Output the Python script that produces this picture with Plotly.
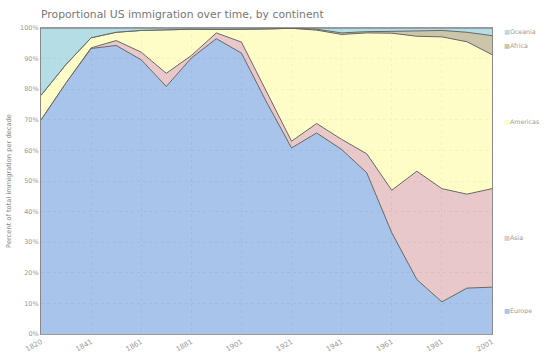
import plotly.graph_objects as go

decades = ["1820", "1831", "1841", "1851", "1861", "1871", "1881", "1891", "1901", "1911",
           "1921", "1931", "1941", "1951", "1961", "1971", "1981", "1991", "2001"]
europe = [70.0, 82.1, 93.3, 94.3, 89.6, 80.9, 90.2, 96.5, 91.8, 75.8,
          60.8, 65.7, 60.3, 52.7, 33.1, 17.8, 10.5, 15.0, 15.3]
asia = [0.0, 0.0, 0.2, 1.6, 2.5, 4.3, 0.8, 1.9, 3.6, 3.5,
        2.2, 3.1, 3.3, 6.2, 13.9, 35.4, 37.0, 30.7, 32.2]
americas = [8.0, 6.0, 3.3, 2.7, 7.1, 14.2, 8.6, 1.1, 4.1, 20.4,
            36.9, 30.5, 34.3, 39.5, 51.3, 44.1, 49.6, 49.8, 43.8]
africa = [0.0, 0.0, 0.0, 0.0, 0.0, 0.0, 0.0, 0.0, 0.0, 0.0,
          0.0, 0.3, 0.5, 0.4, 0.6, 1.7, 2.1, 3.1, 6.2]
oceania = [22.0, 11.9, 3.2, 1.4, 0.8, 0.6, 0.4, 0.5, 0.5, 0.3,
           0.1, 0.4, 1.6, 1.2, 1.1, 1.0, 0.8, 1.4, 2.5]

series_names = ["Europe", "Asia", "Americas", "Africa", "Oceania"]
series_values = [europe, asia, americas, africa, oceania]
fills = ["rgba(154,186,230,0.85)", "rgba(228,190,190,0.85)", "rgba(254,253,190,0.85)",
         "rgba(194,188,154,0.85)", "rgba(167,215,226,0.85)"]
icons = ["#a9c4ea", "#e8c8c8", "#fefdc8", "#cbc6a9", "#b4dde6"]

fig = go.Figure()
for name, vals, fc in zip(series_names, series_values, fills):
    fig.add_trace(go.Scatter(
        x=decades, y=vals, name=name, mode="lines", stackgroup="one",
        line=dict(color="#666666", width=1), fillcolor=fc,
        hoverinfo="x+y+name", showlegend=False))

# legend labels at the right, beside the last value of each band
cum = 0.0
for name, vals, ic in zip(series_names, series_values, icons):
    mid = cum + vals[-1] / 2.0
    cum += vals[-1]
    fig.add_annotation(
        x=1, xref="paper", y=mid, yref="y", xanchor="left", yanchor="middle",
        xshift=10, showarrow=False,
        text=f"<span style='color:{ic}'>■</span><span style='color:#999999'>{name}</span>",
        font=dict(size=6.3, family="DejaVu Sans"))

fig.update_layout(
    width=545, height=356,
    margin=dict(l=41, r=53, t=28, b=22),
    paper_bgcolor="white", plot_bgcolor="white",
    font=dict(family="DejaVu Sans", color="#999999", size=7),
    title=dict(text="Proportional US immigration over time, by continent",
               x=0, xref="paper", xanchor="left", y=0.972, yanchor="top",
               font=dict(size=10.8, color="#777777", family="DejaVu Sans")),
    xaxis=dict(type="category", range=[0, len(decades) - 1], automargin=False,
               tickvals=decades[::2], ticktext=decades[::2], tickangle=-30,
               showgrid=True, gridcolor="#b8bfd0", griddash="dot", gridwidth=1,
               showline=True, linecolor="#999999", mirror=True,
               ticks="", tickfont=dict(size=7, color="#999999")),
    yaxis=dict(range=[0, 100], dtick=10, ticksuffix="%", automargin=False,
               showgrid=True, gridcolor="#b8bfd0", griddash="dot", gridwidth=1,
               showline=True, linecolor="#888888", mirror=True, zeroline=False,
               ticks="", tickfont=dict(size=6.5, color="#999999"),
               title=dict(text="Percent of total immigration per decade",
                          font=dict(size=6.7, color="#888888"), standoff=7)),
)

fig.write_html("out.html", config={"displayModeBar": False},
               post_script="document.body.style.margin='0';")
